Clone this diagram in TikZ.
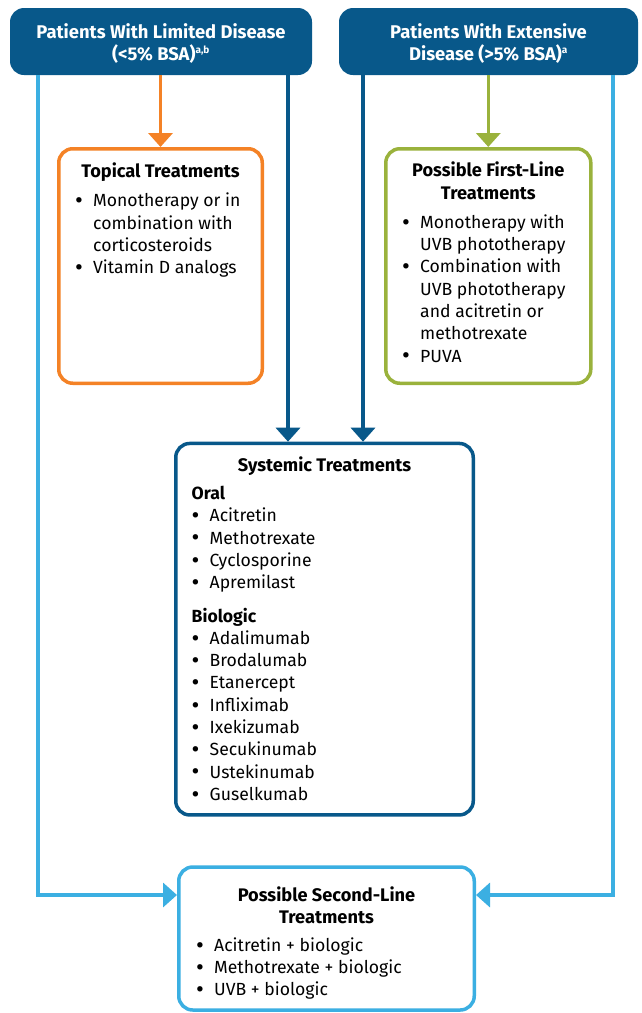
\documentclass[tikz,border=0pt]{standalone}
\usepackage{fontspec}
\setmainfont{Fira Sans}
\usetikzlibrary{arrows.meta,calc}
\definecolor{dblue}{RGB}{8,88,138}
\definecolor{lblue}{RGB}{59,175,226}
\definecolor{orng}{RGB}{244,130,38}
\definecolor{grn}{RGB}{154,178,60}
\newcommand\fl{\rule{0pt}{15pt}}
\newcommand\bdot{\raisebox{-1.8pt}{\fontsize{24}{22}\selectfont\textbullet}}
\newcommand\bl[2][18pt]{\makebox[#1][l]{\bdot}#2}
\newcommand\ind[1][18pt]{\hspace*{#1}}
\begin{document}
\begin{tikzpicture}[x=1pt,y=-1pt,
  box/.style={draw, line width=3.5pt, rounded corners=14pt, inner sep=0pt, fill=white},
  hdr/.style={fill=dblue, rounded corners=14pt, inner sep=0pt},
  conn/.style={line width=3.5pt, -{Triangle[width=24pt,length=14pt]}},
  body/.style={inner sep=0pt, anchor=north west, align=left, font=\fontsize{17.6}{22.3}\selectfont},
  ttl/.style={inner sep=0pt, align=center, font=\bfseries\fontsize{18.2}{22.3}\selectfont},
  htxt/.style={inner sep=0pt, align=center, text=white, font=\bfseries\fontsize{18.4}{21.7}\selectfont}]
\useasboundingbox (0,0) rectangle (642,1013);

% header boxes
\node[hdr, minimum width=302pt, minimum height=67pt] (hL) at (161,41.5) {};
\node[hdr, minimum width=299pt, minimum height=67pt] (hR) at (488.5,41.5) {};
\node[htxt, anchor=north] (hLt) at (161,23.3) {\fl Patients With Limited Disease\\(<5\% BSA)\textsuperscript{\fontsize{10}{10}\selectfont a,b}};
\node[htxt, anchor=north] (hRt) at (488.5,23.3) {\fl Patients With Extensive\\Disease (>5\% BSA)\textsuperscript{\fontsize{10}{10}\selectfont a}};

% boxes
\node[box, draw=orng, minimum width=203.5pt, minimum height=234.5pt] (top) at (160.5,266) {};
\node[box, draw=grn, minimum width=205pt, minimum height=234.5pt] (fir) at (488.3,266) {};
\node[box, draw=dblue, minimum width=297.5pt, minimum height=371.5pt] (sys) at (324.5,629.2) {};
\node[box, draw=lblue, minimum width=295.5pt, minimum height=143pt] (sec) at (326.5,938.5) {};

% texts
\node[ttl, anchor=base] (topT) at (160.5,177) {Topical Treatments};
\node[body] (topB) at (75,191.7) {\fl\bl{Monotherapy or in}\\\ind combination with\\\ind corticosteroids\\\bl{Vitamin D analogs}};

\node[ttl, anchor=north] (firT) at (488.3,161.7) {\fl Possible First-Line\\Treatments};
\node[body] (firB) at (402,213) {\fl\bl{Monotherapy with}\\\ind UVB phototherapy\\\bl{Combination with}\\\ind UVB phototherapy\\\ind and acitretin or\\\ind methotrexate\\\bl{PUVA}};

\node[ttl, anchor=base] (sysT) at (324.5,471.7) {Systemic Treatments};
\node[body] (sysB) at (191.5,484.3) {\fl\textbf{Oral}\\\bl{Acitretin}\\\bl{Methotrexate}\\\bl{Cyclosporine}\\\bl{Apremilast}\\[11pt]\textbf{Biologic}\\\bl{Adalimumab}\\\bl{Brodalumab}\\\bl{Etanercept}\\\bl{Infliximab}\\\bl{Ixekizumab}\\\bl{Secukinumab}\\\bl{Ustekinumab}\\\bl{Guselkumab}};

\node[ttl, anchor=north] (secT) at (326.5,886) {\fl Possible Second-Line\\Treatments};
\node[body] (secB) at (196,936) {\fl\bl{Acitretin + biologic}\\\bl{Methotrexate + biologic}\\\bl{UVB + biologic}};

% connector coordinates
\coordinate (xL) at (38,0);
\coordinate (xLd) at (288,0);
\coordinate (xRd) at (363,0);
\coordinate (xR) at (613,0);
\coordinate (yS) at (0,895);

% connectors
\draw[conn, orng] (hL.south -| top.north) -- (top.north);
\draw[conn, grn] (hR.south -| fir.north) -- (fir.north);
\draw[conn, dblue] (hL.south -| xLd) -- (sys.north -| xLd);
\draw[conn, dblue] (hR.south -| xRd) -- (sys.north -| xRd);
\draw[conn, lblue] (hL.south -| xL) |- (sec.west |- yS);
\draw[conn, lblue] (hR.south -| xR) |- (sec.east |- yS);
\end{tikzpicture}
\end{document}
